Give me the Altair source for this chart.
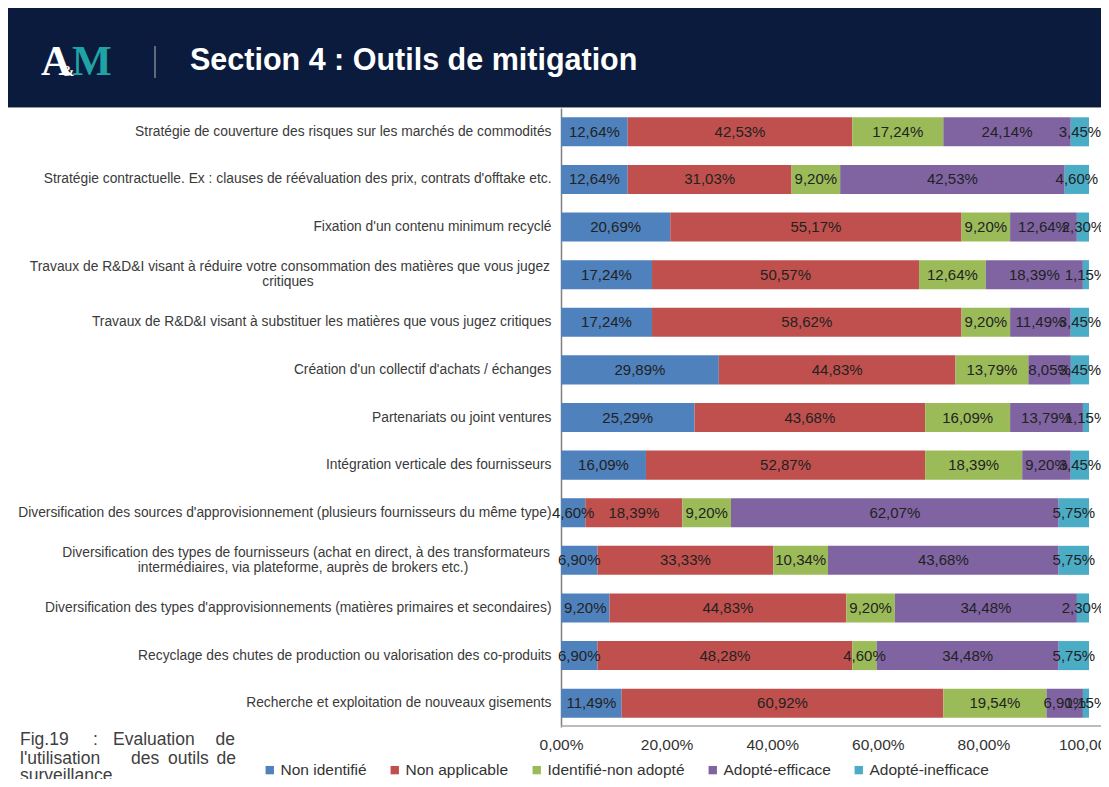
import altair as alt
import pandas as pd

categories = [
    "Stratégie de couverture des risques sur les marchés de commodités",
    "Stratégie contractuelle. Ex : clauses de réévaluation des prix, contrats d'offtake etc.",
    "Fixation d'un contenu minimum recyclé",
    "Travaux de R&D&I visant à  réduire votre consommation des matières que vous jugez|critiques",
    "Travaux de R&D&I visant à  substituer les matières que vous jugez critiques",
    "Création d'un collectif d'achats / échanges",
    "Partenariats ou joint ventures",
    "Intégration verticale des fournisseurs",
    "Diversification des sources d'approvisionnement (plusieurs fournisseurs du même type)",
    "Diversification des types de fournisseurs (achat en direct, à  des transformateurs|intermédiaires, via plateforme, auprès de brokers etc.)",
    "Diversification des types d'approvisionnements (matières primaires et secondaires)",
    "Recyclage des chutes de production ou valorisation des co-produits",
    "Recherche et exploitation de nouveaux gisements",
]

series = ["Non identifié", "Non applicable", "Identifié-non adopté", "Adopté-efficace", "Adopté-inefficace"]
colors = ["#4f81bd", "#c0504d", "#9bbb59", "#8064a2", "#4bacc6"]

non_identifie = [12.64, 12.64, 20.69, 17.24, 17.24, 29.89, 25.29, 16.09, 4.60, 6.90, 9.20, 6.90, 11.49]
non_applicable = [42.53, 31.03, 55.17, 50.57, 58.62, 44.83, 43.68, 52.87, 18.39, 33.33, 44.83, 48.28, 60.92]
identifie_non_adopte = [17.24, 9.20, 9.20, 12.64, 9.20, 13.79, 16.09, 18.39, 9.20, 10.34, 9.20, 4.60, 19.54]
adopte_efficace = [24.14, 42.53, 12.64, 18.39, 11.49, 8.05, 13.79, 9.20, 62.07, 43.68, 34.48, 34.48, 6.90]
adopte_inefficace = [3.45, 4.60, 2.30, 1.15, 3.45, 3.45, 1.15, 3.45, 5.75, 5.75, 2.30, 5.75, 1.15]

x_ticks = [0, 0.2, 0.4, 0.6, 0.8, 1.0]

all_values = [non_identifie, non_applicable, identifie_non_adopte, adopte_efficace, adopte_inefficace]
rows = []
for si, (s, vals) in enumerate(zip(series, all_values)):
    for ci, (c, v) in enumerate(zip(categories, vals)):
        rows.append({
            "cat": c,
            "serie": s,
            "ord": si,
            "value": v / 100.0,
            "label": f"{v:.2f}".replace(".", ",") + "%",
        })
df = pd.DataFrame(rows)

FONT = "Liberation Sans"
LABEL_SIZE = 13.8
LABEL_COLOR = "#3a3a3a"
OX, OY = 561, 108  # plot origin in page pixels
PLOT_W = 528


def px(x):
    return x - OX


def py(y):
    return y - OY


y_enc = alt.Y(
    "cat:N",
    sort=categories,
    title=None,
    scale=alt.Scale(paddingInner=0.39, paddingOuter=0.195),
    axis=alt.Axis(
        labelExpr="indexof(datum.label, '|') >= 0 ? '' : datum.label",
        labelFontSize=LABEL_SIZE,
        labelFont=FONT,
        labelColor=LABEL_COLOR,
        labelLimit=0,
        labelPadding=10,
        ticks=False,
        domainColor="#808080",
        domainWidth=1.5,
    ),
)

x_scale = alt.Scale(domain=[0, 1], nice=False)
x_axis = alt.Axis(
    values=x_ticks,
    labelExpr="replace(format(datum.value * 100, '.2f'), '.', ',') + '%'",
    labelFontSize=15.5,
    labelFont=FONT,
    labelColor="#333333",
    labelPadding=10,
    labelFlush=False,
    labelOverlap=False,
    ticks=False,
    domain=False,
    grid=False,
    title=None,
)

base = alt.Chart(df).transform_stack(
    stack="value",
    groupby=["cat"],
    as_=["v0", "v1"],
    sort=[alt.SortField("ord", order="ascending")],
).transform_calculate(mid="(datum.v0 + datum.v1) / 2")

bars = base.mark_bar().encode(
    y=y_enc,
    x=alt.X("v0:Q", scale=x_scale, axis=x_axis),
    x2="v1:Q",
    color=alt.Color(
        "serie:N",
        sort=series,
        scale=alt.Scale(domain=series, range=colors),
        legend=alt.Legend(
            title=None,
            orient="none",
            direction="horizontal",
            legendX=px(262),
            legendY=py(762),
            symbolType="square",
            symbolSize=70,
            symbolStrokeWidth=0,
            labelFontSize=15.5,
            labelFont=FONT,
            labelColor="#333333",
            labelOffset=3,
            columnPadding=20,
            labelLimit=0,
        ),
    ),
)

texts = base.mark_text(fontSize=15, font=FONT, color="#222222", baseline="middle").encode(
    y=alt.Y("cat:N", sort=categories),
    x=alt.X("mid:Q"),
    text="label:N",
)

# the two wrapped category labels: first line right-aligned like the axis labels,
# second line centred under the first (as in the original)
wrapped = [c for c in categories if "|" in c]
wrap_centers = [288, 303]
wrap_layers = []
for c, cx in zip(wrapped, wrap_centers):
    first, second = c.split("|")
    wdf = pd.DataFrame({"cat": [c], "first": [first], "second": [second]})
    wrap_layers.append(
        alt.Chart(wdf).mark_text(
            font=FONT, fontSize=LABEL_SIZE, color=LABEL_COLOR, align="right", baseline="middle", dy=-7.5
        ).encode(y=alt.Y("cat:N", sort=categories), x=alt.value(-11), text="first:N")
    )
    wrap_layers.append(
        alt.Chart(wdf).mark_text(
            font=FONT, fontSize=LABEL_SIZE, color=LABEL_COLOR, align="center", baseline="middle", dy=7.5
        ).encode(y=alt.Y("cat:N", sort=categories), x=alt.value(px(cx)), text="second:N")
    )

dummy = pd.DataFrame({"d": [0]})

header = alt.Chart(dummy).mark_rect(color="#0b1b3d").encode(
    x=alt.value(px(8)), x2=alt.value(px(1109)), y=alt.value(py(8)), y2=alt.value(py(107))
)
header_line = alt.Chart(dummy).mark_rule(color="#8f97a3", strokeWidth=1).encode(
    x=alt.value(px(8)), x2=alt.value(px(1109)), y=alt.value(py(107.5))
)
logo_a = alt.Chart(dummy).mark_text(
    text="A", font="Liberation Serif", fontWeight="bold", fontSize=42, color="#ffffff",
    align="left", baseline="alphabetic"
).encode(x=alt.value(px(41)), y=alt.value(py(75)))
logo_amp = alt.Chart(dummy).mark_text(
    text="&", font="Liberation Serif", fontWeight="bold", fontSize=15, color="#ffffff",
    align="left", baseline="alphabetic"
).encode(x=alt.value(px(62)), y=alt.value(py(76)))
logo_m = alt.Chart(dummy).mark_text(
    text="M", font="Liberation Serif", fontWeight="bold", fontSize=42, color="#1fa3a5",
    align="left", baseline="alphabetic"
).encode(x=alt.value(px(72)), y=alt.value(py(75)))
sep = alt.Chart(dummy).mark_rule(color="#7d8491", strokeWidth=1.5).encode(
    x=alt.value(px(155)), y=alt.value(py(46)), y2=alt.value(py(78))
)
title = alt.Chart(dummy).mark_text(
    text="Section 4 : Outils de mitigation", font=FONT, fontWeight="bold", fontSize=30.5,
    color="#ffffff", align="left", baseline="middle"
).encode(x=alt.value(px(190)), y=alt.value(py(61)))

bottom_line = alt.Chart(dummy).mark_rule(color="#a6a6a6", strokeWidth=1.5).encode(
    x=alt.value(0), x2=alt.value(px(1109)), y=alt.value(py(726))
)

caption_words = [
    ("Fig.19", 20, 740, "left"),
    (":", 93, 740, "left"),
    ("Evaluation", 113, 740, "left"),
    ("de", 235, 740, "right"),
    ("l'utilisation", 20, 759, "left"),
    ("des", 131, 759, "left"),
    ("outils", 168, 759, "left"),
    ("de", 236, 759, "right"),
    ("surveillance", 20, 776, "left"),
]
caption_layers = [
    alt.Chart(dummy).mark_text(
        text=w, font=FONT, fontSize=17.5, color="#404040", align=a, baseline="middle"
    ).encode(x=alt.value(px(x)), y=alt.value(py(y)))
    for (w, x, y, a) in caption_words
]

chart = alt.layer(
    header, header_line, logo_a, logo_amp, logo_m, sep, title,
    bars, texts, *wrap_layers, bottom_line, *caption_layers
).properties(
    width=PLOT_W,
    height=619,
    padding={"left": 553, "top": 100, "right": 1093 - 553 - PLOT_W, "bottom": 52},
    autosize=alt.AutoSizeParams(type="none"),
    background="#ffffff",
).configure_view(stroke=None)

chart.save("out.html", embed_options={"renderer": "svg", "actions": False})
